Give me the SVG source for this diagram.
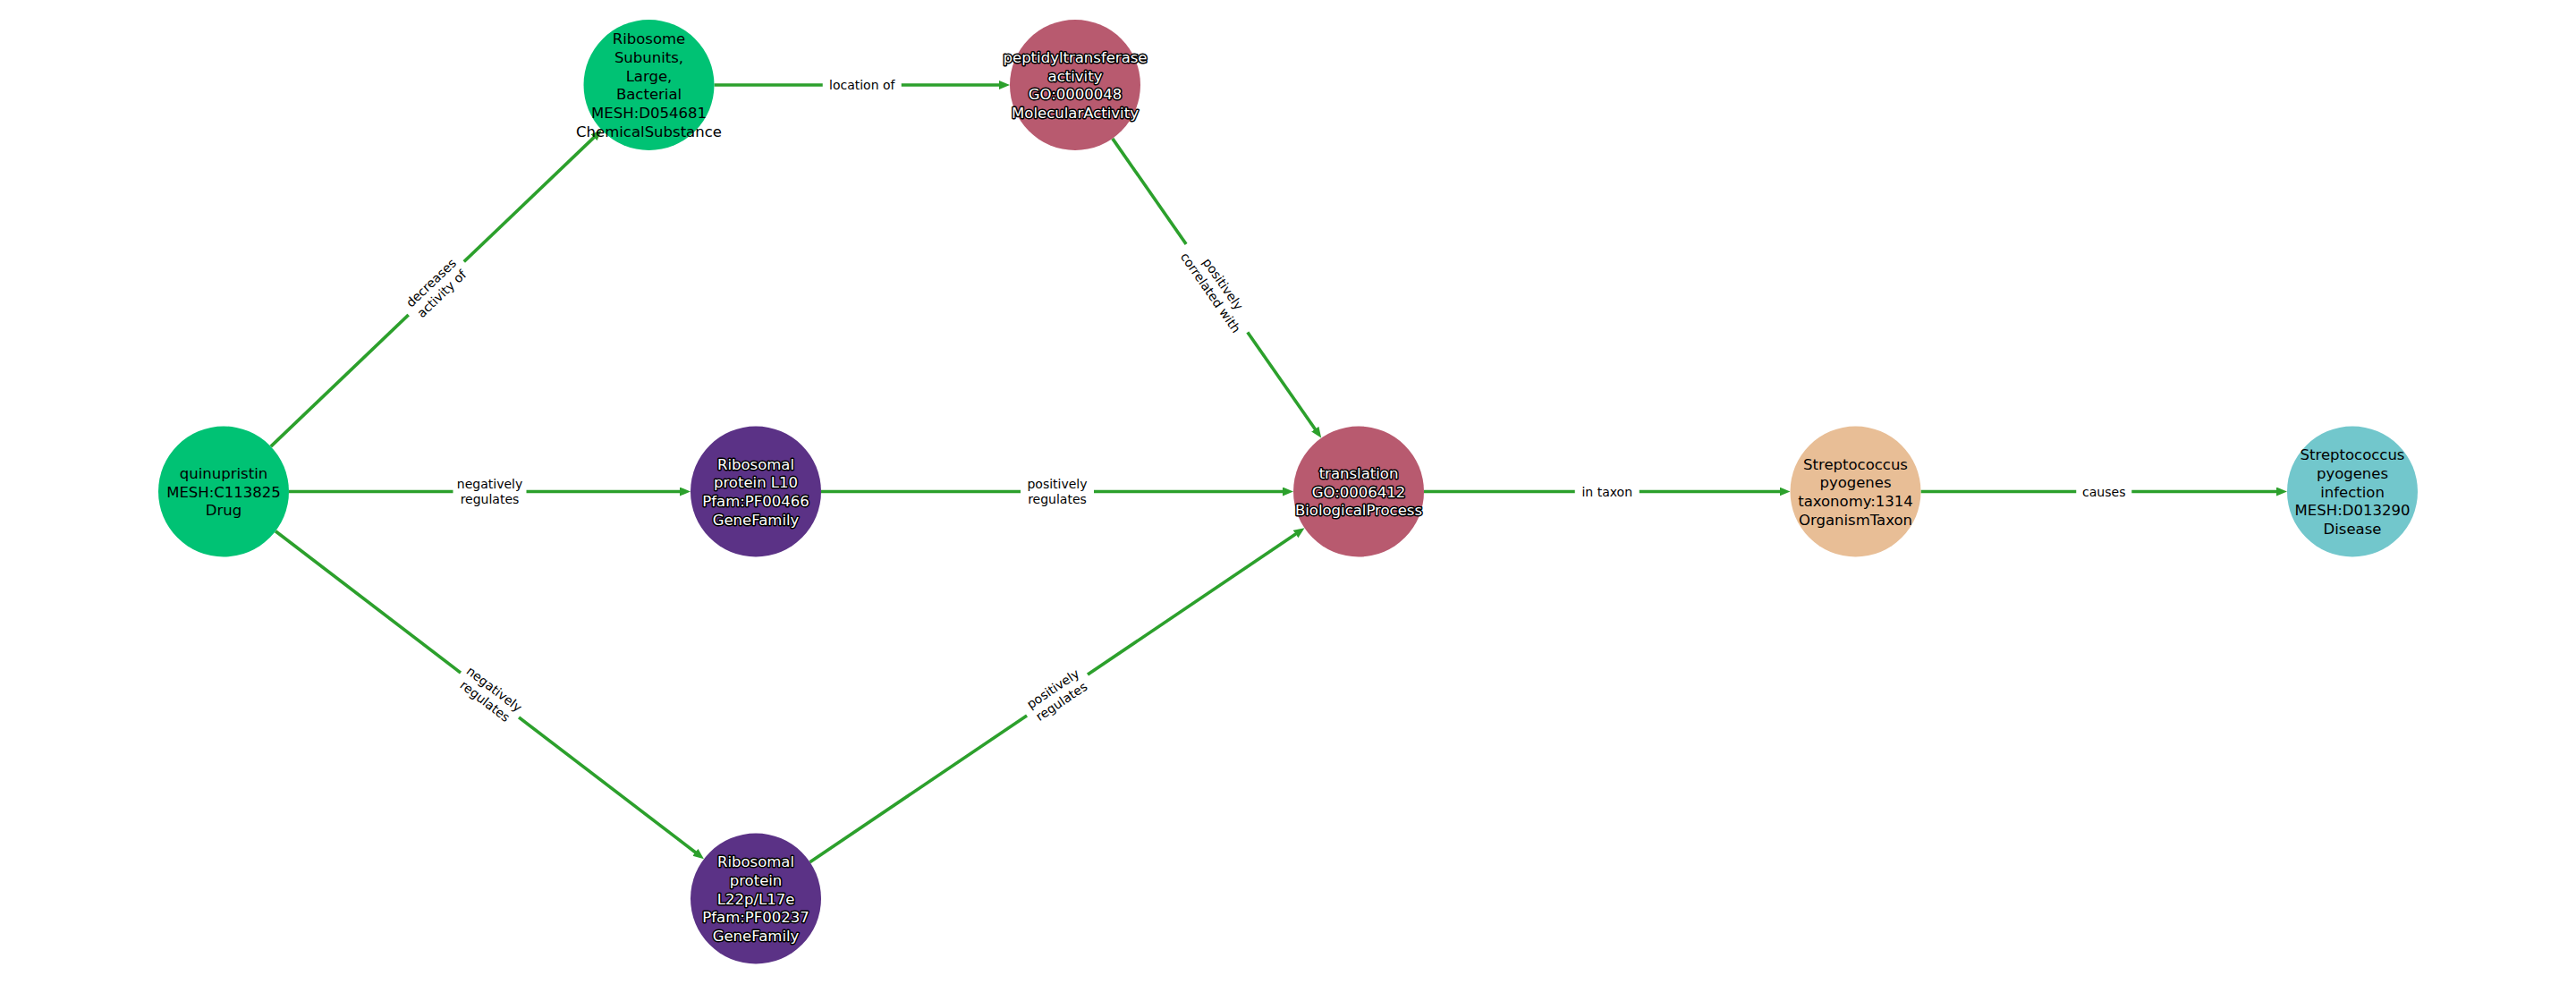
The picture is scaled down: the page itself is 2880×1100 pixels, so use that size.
<svg xmlns="http://www.w3.org/2000/svg" width="2880" height="1100" viewBox="0 0 2880 1100">
<style>
.edge{stroke:#2ca02c;stroke-width:3.6;fill:none;marker-end:url(#arr)}
.elbl rect{fill:#fff;stroke:none}
.elbl text{font-family:"DejaVu Sans",sans-serif;font-size:14px;fill:#000;text-anchor:middle;dominant-baseline:central}
.node text{font-family:"DejaVu Sans",sans-serif;font-size:16.5px;text-anchor:middle;dominant-baseline:central}
.dark{fill:#000}
.light{fill:#fff;stroke:#000;stroke-width:3;paint-order:stroke;stroke-linejoin:round}
.green{fill:#00c274}
.red{fill:#b85a6f}
.purple{fill:#5b3286}
.orange{fill:#e8be96}
.teal{fill:#72c7cc}
</style>
<defs>
<marker id="arr" markerUnits="userSpaceOnUse" markerWidth="14" markerHeight="12" refX="4" refY="5" orient="auto">
<path d="M0,0 L12,5 L0,10 z" fill="#2ca02c"/>
</marker>
</defs>
<rect width="2880" height="1100" fill="#fff"/>
<g id="connectors">
<line class="edge" x1="302.8" y1="499.1" x2="666.9" y2="150.9"/>
<line class="edge" x1="798.5" y1="95" x2="1121" y2="95"/>
<line class="edge" x1="1243.8" y1="154.9" x2="1472.6" y2="483.0"/>
<line class="edge" x1="323" y1="549.5" x2="764" y2="549.5"/>
<line class="edge" x1="918" y1="549.5" x2="1438" y2="549.5"/>
<line class="edge" x1="308.0" y1="593.8" x2="780.6" y2="955.3"/>
<line class="edge" x1="905.5" y1="963.7" x2="1451.9" y2="594.8"/>
<line class="edge" x1="1592" y1="549.5" x2="1993.5" y2="549.5"/>
<line class="edge" x1="2147.5" y1="549.5" x2="2549" y2="549.5"/>
<g class="elbl" transform="translate(487.75,322.25) rotate(-43.7)"><rect x="-43" y="-21" width="86" height="42"/><text x="0" y="-8.5">decreases</text><text x="0" y="8.5">activity of</text></g>
<g class="elbl" transform="translate(963.75,95)"><rect x="-44" y="-12" width="88" height="24"/><text x="0" y="0">location of</text></g>
<g class="elbl" transform="translate(1360.4,322.25) rotate(55.1)"><rect x="-60" y="-21" width="120" height="42"/><text x="0" y="-8.5">positively</text><text x="0" y="8.5">correlated with</text></g>
<g class="elbl" transform="translate(547.5,549.5)"><rect x="-41" y="-21" width="82" height="42"/><text x="0" y="-8.5">negatively</text><text x="0" y="8.5">regulates</text></g>
<g class="elbl" transform="translate(1182,549.5)"><rect x="-41" y="-21" width="82" height="42"/><text x="0" y="-8.5">positively</text><text x="0" y="8.5">regulates</text></g>
<g class="elbl" transform="translate(547.5,777) rotate(37.4)"><rect x="-41" y="-21" width="82" height="42"/><text x="0" y="-8.5">negatively</text><text x="0" y="8.5">regulates</text></g>
<g class="elbl" transform="translate(1182,777) rotate(-34)"><rect x="-41" y="-21" width="82" height="42"/><text x="0" y="-8.5">positively</text><text x="0" y="8.5">regulates</text></g>
<g class="elbl" transform="translate(1796.75,549.5)"><rect x="-36" y="-12" width="72" height="24"/><text x="0" y="0">in taxon</text></g>
<g class="elbl" transform="translate(2352.25,549.5)"><rect x="-31" y="-12" width="62" height="24"/><text x="0" y="0">causes</text></g>
</g>
<g id="n_quinupristin" class="node"><circle class="green" cx="250" cy="549.5" r="73"/><text class="dark"><tspan x="250" y="528.8">quinupristin</tspan><tspan x="250" y="549.5">MESH:C113825</tspan><tspan x="250" y="570.2">Drug</tspan></text></g>
<g id="n_ribosome_subunits" class="node"><circle class="green" cx="725.5" cy="95" r="73"/><text class="dark"><tspan x="725.5" y="43.3">Ribosome</tspan><tspan x="725.5" y="64">Subunits,</tspan><tspan x="725.5" y="84.7">Large,</tspan><tspan x="725.5" y="105.3">Bacterial</tspan><tspan x="725.5" y="126">MESH:D054681</tspan><tspan x="725.5" y="146.7">ChemicalSubstance</tspan></text></g>
<g id="n_peptidyltransferase" class="node"><circle class="red" cx="1202" cy="95" r="73"/><text class="light"><tspan x="1202" y="64">peptidyltransferase</tspan><tspan x="1202" y="84.7">activity</tspan><tspan x="1202" y="105.3">GO:0000048</tspan><tspan x="1202" y="126">MolecularActivity</tspan></text></g>
<g id="n_l10" class="node"><circle class="purple" cx="845" cy="549.5" r="73"/><text class="light"><tspan x="845" y="518.5">Ribosomal</tspan><tspan x="845" y="539.2">protein L10</tspan><tspan x="845" y="559.8">Pfam:PF00466</tspan><tspan x="845" y="580.5">GeneFamily</tspan></text></g>
<g id="n_translation" class="node"><circle class="red" cx="1519" cy="549.5" r="73"/><text class="light"><tspan x="1519" y="528.8">translation</tspan><tspan x="1519" y="549.5">GO:0006412</tspan><tspan x="1519" y="570.2">BiologicalProcess</tspan></text></g>
<g id="n_streptococcus" class="node"><circle class="orange" cx="2074.5" cy="549.5" r="73"/><text class="dark"><tspan x="2074.5" y="518.5">Streptococcus</tspan><tspan x="2074.5" y="539.2">pyogenes</tspan><tspan x="2074.5" y="559.8">taxonomy:1314</tspan><tspan x="2074.5" y="580.5">OrganismTaxon</tspan></text></g>
<g id="n_infection" class="node"><circle class="teal" cx="2630" cy="549.5" r="73"/><text class="dark"><tspan x="2630" y="508.2">Streptococcus</tspan><tspan x="2630" y="528.8">pyogenes</tspan><tspan x="2630" y="549.5">infection</tspan><tspan x="2630" y="570.2">MESH:D013290</tspan><tspan x="2630" y="590.8">Disease</tspan></text></g>
<g id="n_l22" class="node"><circle class="purple" cx="845" cy="1004.5" r="73"/><text class="light"><tspan x="845" y="963.2">Ribosomal</tspan><tspan x="845" y="983.8">protein</tspan><tspan x="845" y="1004.5">L22p/L17e</tspan><tspan x="845" y="1025.2">Pfam:PF00237</tspan><tspan x="845" y="1045.8">GeneFamily</tspan></text></g>
</svg>
